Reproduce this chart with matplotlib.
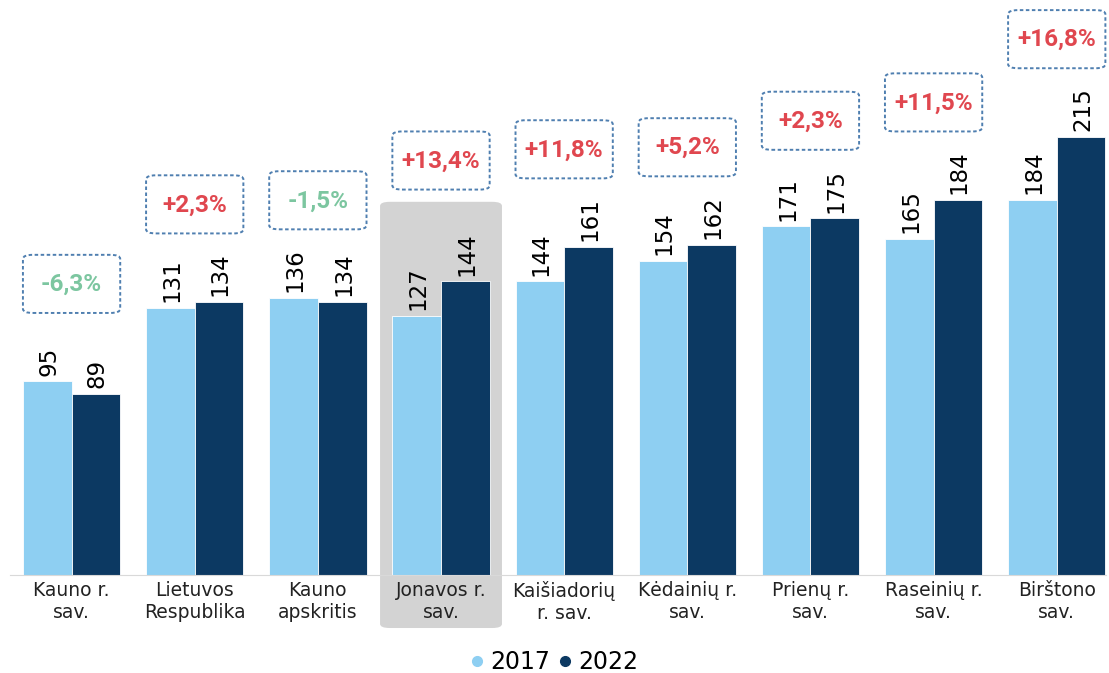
import numpy as np
import matplotlib
matplotlib.use("Agg")
import matplotlib.pyplot as plt
from matplotlib.patches import FancyBboxPatch
from matplotlib.lines import Line2D

categories = ["Kauno r.\nsav.", "Lietuvos\nRespublika", "Kauno\napskritis", "Jonavos r.\nsav.",
              "Kaišiadorių\nr. sav.", "Kėdainių r.\nsav.", "Prienų r.\nsav.", "Raseinių r.\nsav.",
              "Birštono\nsav."]
values_2017 = [95, 131, 136, 127, 144, 154, 171, 165, 184]
values_2022 = [89, 134, 134, 144, 161, 162, 175, 184, 215]
changes = ["-6,3%", "+2,3%", "-1,5%", "+13,4%", "+11,8%", "+5,2%", "+2,3%", "+11,5%", "+16,8%"]
highlight = 3

light = "#8ecff2"
dark = "#0c3962"
red = "#e0474f"
green = "#7cc6a0"
box_edge = "#4f7fb0"

fig = plt.figure(figsize=(11.09, 6.73), dpi=100)
ax = fig.add_axes([10 / 1109, 98 / 673, 1096 / 1109, 571 / 673])

x = np.arange(len(categories))
w = 0.395

# grey highlight behind the Jonavos group
hl = FancyBboxPatch((highlight - 0.495, -26), 0.99, 209,
                    boxstyle="round,pad=0,rounding_size=0.08",
                    mutation_aspect=25, facecolor="#d3d3d3", edgecolor="none",
                    clip_on=False, zorder=0)
ax.add_patch(hl)

b1 = ax.bar(x - w / 2, values_2017, w, color=light, edgecolor="white", linewidth=0.6, zorder=2)
b2 = ax.bar(x + w / 2, values_2022, w, color=dark, edgecolor="white", linewidth=0.6, zorder=2)

for bars, vals in ((b1, values_2017), (b2, values_2022)):
    for rect, v in zip(bars, vals):
        ax.annotate(str(v), (rect.get_x() + rect.get_width() / 2, v),
                    xytext=(1, 4), textcoords="offset points", rotation=90,
                    ha="center", va="bottom", fontsize=16.5, color="black", zorder=3)

# dashed boxes with the change in percent
for i, txt in enumerate(changes):
    top = max(values_2017[i], values_2022[i])
    yc = top + 47.5
    if i == highlight:
        yc = 203
    col = green if txt.startswith("-") else red
    box = FancyBboxPatch((i - 0.395, yc - 14), 0.79, 28.5,
                         boxstyle="round,pad=0,rounding_size=0.08",
                         mutation_aspect=25, facecolor="white", edgecolor=box_edge,
                         linestyle=(0, (1.8, 1.3)), linewidth=1.4, clip_on=False, zorder=4)
    ax.add_patch(box)
    ax.text(i, yc, txt, ha="center", va="center", fontsize=17.5, fontweight="bold",
            family=["Roboto", "DejaVu Sans"], color=col, zorder=5)

ax.set_xlim(-0.5, 8.4)
ax.set_ylim(0, 280)
ax.set_xticks(x)
ax.set_xticklabels(categories, fontsize=13.5, color="#222222", linespacing=1.2)
ax.tick_params(axis="x", length=0, pad=4)
ax.set_yticks([])
for s in ["top", "right", "left"]:
    ax.spines[s].set_visible(False)
ax.spines["bottom"].set_color("#d9d9d9")
ax.spines["bottom"].set_zorder(3)
ax.patch.set_alpha(0)

dots = [Line2D([], [], marker="o", linestyle="none", markersize=7, color=c) for c in (light, dark)]
fig.legend(handles=dots, labels=["2017", "2022"], loc="center",
           bbox_to_anchor=(0.5, 11 / 673), ncol=2, frameon=False,
           fontsize=17, handlelength=0.5, handletextpad=0.3, columnspacing=0.4)

fig.savefig("out.png", dpi=100)
